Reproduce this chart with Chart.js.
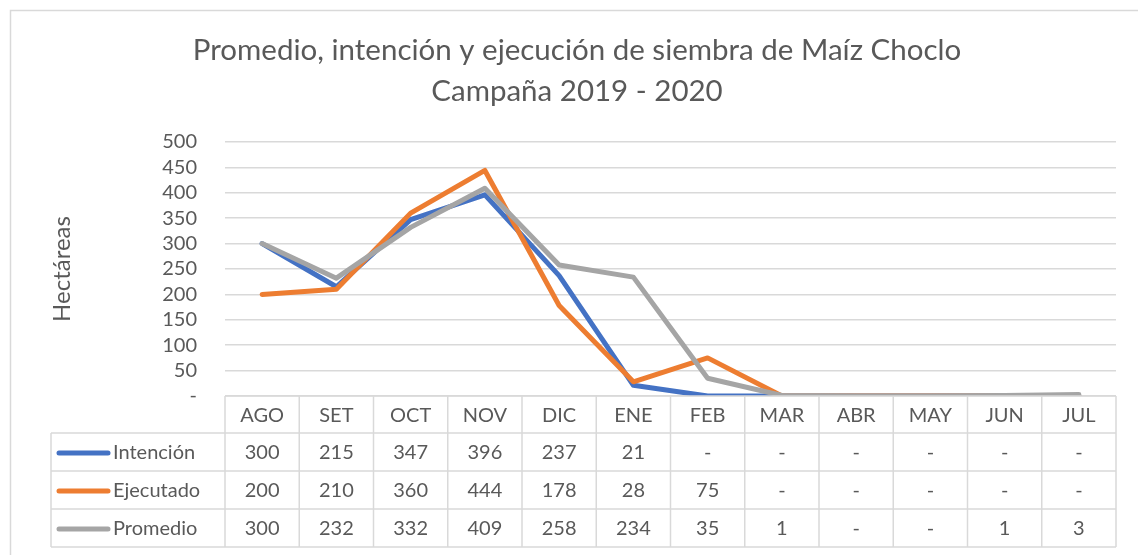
<!DOCTYPE html>
<html>
<head>
<meta charset="utf-8">
<script src="https://cdn.jsdelivr.net/npm/chart.js@4"></script>
<style>
  html,body{margin:0;padding:0;background:#fff;}
  #wrap{width:1138px;height:555px;position:relative;}
</style>
</head>
<body>
<div id="wrap"><canvas id="chart"></canvas></div>
<script>
// meses de la campaña
const meses = ["AGO","SET","OCT","NOV","DIC","ENE","FEB","MAR","ABR","MAY","JUN","JUL"];
// hectáreas por mes
const intencion = [300,215,347,396,237,21,0,0,0,0,0,0];
const ejecutado = [200,210,360,444,178,28,75,0,0,0,0,0];
const promedio  = [300,232,332,409,258,234,35,1,0,0,1,3];
const series = ["Intención","Ejecutado","Promedio"];
const titulo = ["Promedio, intención y ejecución de siembra de Maíz Choclo", "Campaña 2019 - 2020"];
const colores = ["#4472C4","#ED7D31","#A5A5A5"];

const txtColor = "#595959";
const lineaGris = "#d9d9d9";
const fuente = "Lato, 'Open Sans', sans-serif";

function fmt(v){ return v===0 ? "-" : String(v); }

// borde del area del grafico + titulo (el cuadro de excel sigue a la derecha)
const bordePlugin = {
  id: "borde",
  beforeDraw(chart){
    const ctx = chart.ctx;
    ctx.save();
    ctx.fillStyle = "#fff";
    ctx.fillRect(0,0,chart.width,chart.height);
    ctx.strokeStyle = lineaGris;
    ctx.lineWidth = 1.5;
    ctx.strokeRect(10.5,10.5,chart.width+20,chart.height+20);
    ctx.fillStyle = txtColor;
    ctx.font = "29.5px " + fuente;
    ctx.textAlign = "center";
    ctx.textBaseline = "middle";
    ctx.fillText(titulo[0], 577, 50);
    ctx.fillText(titulo[1], 577, 91);
    ctx.restore();
  }
};

// tabla de datos debajo del grafico (como en excel)
const tablaPlugin = {
  id: "tabla",
  afterDraw(chart){
    const ctx = chart.ctx;
    const x = chart.scales.x;
    const area = chart.chartArea;
    const w = (area.right-area.left)/meses.length;
    const filas = [area.bottom, 433, 471, 509, 547];
    const izq = 51;
    const datos = [intencion, ejecutado, promedio];
    ctx.save();
    ctx.strokeStyle = lineaGris;
    ctx.lineWidth = 1.5;
    // lineas horizontales
    ctx.beginPath();
    ctx.moveTo(area.left, filas[0]); ctx.lineTo(area.right, filas[0]);
    for(let r=1;r<filas.length;r++){
      ctx.moveTo(izq, filas[r]); ctx.lineTo(area.right, filas[r]);
    }
    // verticales
    ctx.moveTo(izq, filas[1]); ctx.lineTo(izq, filas[4]);
    for(let i=0;i<=meses.length;i++){
      const xx = area.left + i*w;
      ctx.moveTo(xx, filas[0]); ctx.lineTo(xx, filas[4]);
    }
    ctx.stroke();

    ctx.fillStyle = txtColor;
    ctx.font = "20px " + fuente;
    ctx.textAlign = "center";
    ctx.textBaseline = "middle";
    meses.forEach((m,i)=>{
      ctx.fillText(m, x.getPixelForValue(i), (filas[0]+filas[1])/2+1);
    });
    datos.forEach((d,r)=>{
      const cy = (filas[r+1]+filas[r+2])/2+1;
      d.forEach((v,i)=>{
        ctx.fillText(fmt(v), x.getPixelForValue(i), cy);
      });
      // leyenda
      ctx.save();
      ctx.strokeStyle = colores[r];
      ctx.lineWidth = 5;
      ctx.lineCap = "round";
      ctx.beginPath();
      ctx.moveTo(59, cy); ctx.lineTo(108, cy);
      ctx.stroke();
      ctx.restore();
      ctx.textAlign = "left";
      ctx.fillText(series[r], 113, cy);
      ctx.textAlign = "center";
    });
    ctx.restore();
  }
};

new Chart(document.getElementById("chart"), {
  type: "line",
  data: {
    labels: meses,
    datasets: [
      {label: series[0], data: intencion, borderColor: colores[0], order: 3},
      {label: series[1], data: ejecutado, borderColor: colores[1], order: 2},
      {label: series[2], data: promedio,  borderColor: colores[2], order: 1}
    ]
  },
  options: {
    responsive: true,
    maintainAspectRatio: false,
    animation: false,
    layout: {padding: {left: 10, right: 22, top: 142, bottom: 159}},
    elements: {
      line: {borderWidth: 5, tension: 0, borderCapStyle: "round", borderJoinStyle: "round"},
      point: {radius: 0, hoverRadius: 0}
    },
    plugins: {
      legend: {display: false},
      tooltip: {enabled: false},
      title: {display: false}
    },
    scales: {
      x: {
        display: false,
        offset: true
      },
      y: {
        min: 0, max: 500,
        afterFit(s){ s.width = 215; },
        border: {display: false},
        grid: {color: lineaGris, lineWidth: 1.5, drawTicks: false},
        ticks: {stepSize: 50, autoSkip: false, padding: 28, color: txtColor, font: {family: fuente, size: 20}, callback: v => fmt(v)},
        title: {display: true, text: "Hectáreas", color: txtColor, font: {family: fuente, size: 24}, padding: {top: 38}}
      }
    }
  },
  plugins: [bordePlugin, tablaPlugin]
});
</script>
</body>
</html>
